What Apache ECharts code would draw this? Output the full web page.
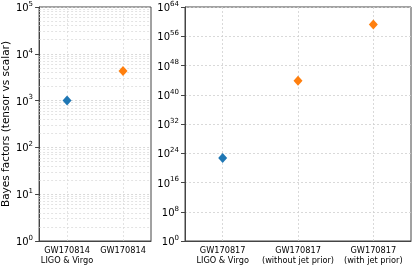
<!DOCTYPE html>
<html><head><meta charset="utf-8">
<script src="https://cdn.jsdelivr.net/npm/echarts@6/dist/echarts.min.js"></script>
<style>html,body{margin:0;padding:0;background:#fff}#c{width:415px;height:268px}</style>
</head><body><div id="c"></div>
<script>
const leftCategories = ['GW170814\nLIGO & Virgo', 'GW170814'];
const leftBlue = [[0, 1000]];
const leftOrange = [[1, 4300]];
const rightCategories = ['GW170817\nLIGO & Virgo', 'GW170817\n(without jet prior)', 'GW170817\n(with jet prior)'];
const rightBlue = [[0, 5e22]];
const rightOrange = [[1, 6.3e43], [2, 1.6e59]];
const leftMinorGrid = [];
for (let e = 0; e < 5; e++) for (let m = 2; m <= 9; m++) leftMinorGrid.push(m * Math.pow(10, e));

const BLUE = '#1f77b4', ORANGE = '#ff7f0e';
const FONT = 'DejaVu Sans';
function expLabel(v) {
  const e = Math.round(Math.log10(v));
  return '{b|10}{s|' + e + '}';
}
const yLabel = {
  fontFamily: FONT, color: '#000', formatter: expLabel, margin: 6,
  rich: { b: { fontSize: 10, fontFamily: FONT, color: '#000', verticalAlign: 'bottom' },
          s: { fontSize: 7, fontFamily: FONT, color: '#000', verticalAlign: 'top', padding: [0, 0, 6, 0] } }
};
const xLabel = { fontFamily: FONT, fontSize: 8.2, color: '#000', lineHeight: 9.8, margin: 5, interval: 0 };
const gridLine = { show: true, lineStyle: { color: '#d0d0d0', type: [2, 2], width: 0.8 } };
function vLines(n) { const d = []; for (let i = 0; i < n; i++) d.push({ xAxis: i }); return d; }
const mark = { opacity: 1 };

const chart = echarts.init(document.getElementById('c'), null, { renderer: 'canvas' });
chart.setOption({
  animation: false,
  grid: [
    { left: 39, top: 7, width: 112, height: 234, show: true, borderColor: '#444', borderWidth: 1, backgroundColor: 'transparent' },
    { left: 185, top: 7, width: 226, height: 234, show: true, borderColor: '#444', borderWidth: 1, backgroundColor: 'transparent' }
  ],
  xAxis: [
    { type: 'category', gridIndex: 0, data: leftCategories, boundaryGap: true,
      axisLine: { lineStyle: { color: '#444' } }, axisTick: { alignWithLabel: true, length: 3, lineStyle: { color: '#444' } },
      axisLabel: xLabel, splitLine: { show: false } },
    { type: 'category', gridIndex: 1, data: rightCategories, boundaryGap: true,
      axisLine: { lineStyle: { color: '#444' } }, axisTick: { alignWithLabel: true, length: 3, lineStyle: { color: '#444' } },
      axisLabel: xLabel, splitLine: { show: false } }
  ],
  yAxis: [
    { type: 'log', logBase: 10, gridIndex: 0, min: 1, max: 1e5, interval: 1,
      name: 'Bayes factors (tensor vs scalar)', nameLocation: 'middle', nameGap: 25,
      nameTextStyle: { fontFamily: FONT, fontSize: 10.5, color: '#000' },
      axisLine: { show: true, lineStyle: { color: '#444' } }, axisTick: { show: true, length: 4, lineStyle: { color: '#444' } },
      axisLabel: yLabel, splitLine: gridLine },
    { type: 'log', logBase: 10, gridIndex: 1, min: 1, max: 1e64, interval: 8,
      axisLine: { show: true, lineStyle: { color: '#444' } }, axisTick: { show: true, length: 4, lineStyle: { color: '#444' } },
      axisLabel: yLabel, splitLine: gridLine }
  ],
  series: [
    { type: 'scatter', xAxisIndex: 0, yAxisIndex: 0, data: leftBlue, symbol: 'diamond', symbolSize: [9, 10],
      itemStyle: Object.assign({ color: BLUE }, mark), z: 5,
      markLine: { silent: true, symbol: 'none', label: { show: false }, animation: false,
        lineStyle: { color: '#d8d8d8', type: [2, 2], width: 0.7 },
        data: leftMinorGrid.map(v => ({ yAxis: v })).concat(vLines(leftCategories.length)) } },
    { type: 'scatter', xAxisIndex: 0, yAxisIndex: 0, data: leftOrange, symbol: 'diamond', symbolSize: [9, 10],
      itemStyle: Object.assign({ color: ORANGE }, mark), z: 5 },
    { type: 'scatter', xAxisIndex: 1, yAxisIndex: 1, data: rightBlue, symbol: 'diamond', symbolSize: [9, 10],
      itemStyle: Object.assign({ color: BLUE }, mark), z: 5,
      markLine: { silent: true, symbol: 'none', label: { show: false }, animation: false,
        lineStyle: { color: '#d0d0d0', type: [2, 2], width: 0.8 },
        data: vLines(rightCategories.length) } },
    { type: 'scatter', xAxisIndex: 1, yAxisIndex: 1, data: rightOrange, symbol: 'diamond', symbolSize: [9, 10],
      itemStyle: Object.assign({ color: ORANGE }, mark), z: 5 }
  ]
});
</script></body></html>
